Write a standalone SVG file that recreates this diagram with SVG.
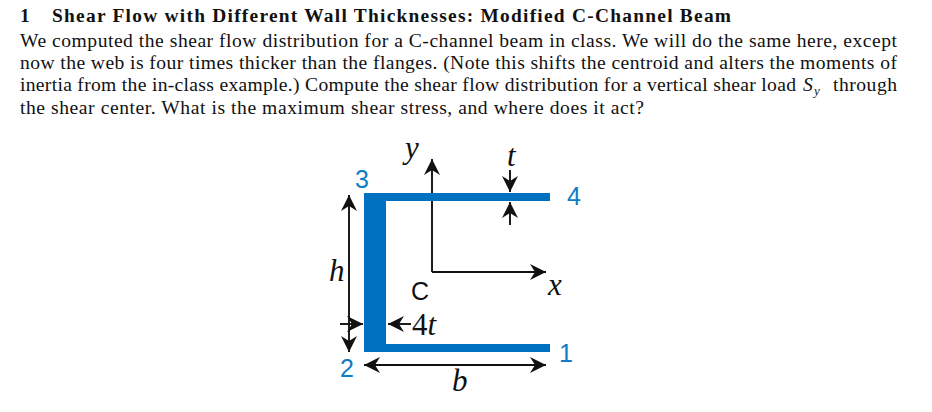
<svg xmlns="http://www.w3.org/2000/svg" width="932" height="412" viewBox="0 0 932 412">
<style>
.t{font-family:"Liberation Serif","Times New Roman",serif;font-size:19.6px;fill:#111}
.b{font-weight:bold;font-size:19.4px}
.i{font-family:"Liberation Serif","Times New Roman",serif;font-style:italic;font-size:31px;fill:#111}
.n{font-family:"Liberation Sans",Arial,sans-serif;font-size:25px;fill:#0f7cc4}
.c{font-family:"Liberation Sans",Arial,sans-serif;font-size:25px;fill:#111}
.a{stroke:#111;stroke-width:1.9;fill:none;marker-end:url(#h)}
.s{fill:#0070c0}
</style>
<defs>
<marker id="h" markerUnits="userSpaceOnUse" markerWidth="18" markerHeight="18" refX="16" refY="8" orient="auto-start-reverse" viewBox="0 0 18 16">
<path d="M0 0L16 8L0 16L5 8Z" fill="#111"/>
</marker>
</defs>
<rect width="932" height="412" fill="#fff"/>
<g id="text">
<text class="t b" x="20" y="22">1</text>
<text class="t b" x="52" y="22" textLength="679">Shear Flow with Different Wall Thicknesses: Modified C-Channel Beam</text>
<text class="t" x="20" y="47" textLength="877">We computed the shear flow distribution for a C-channel beam in class. We will do the same here, except</text>
<text class="t" x="20" y="69" textLength="877">now the web is four times thicker than the flanges. (Note this shifts the centroid and alters the moments of</text>
<text class="t" x="20" y="91" textLength="776">inertia from the in-class example.) Compute the shear flow distribution for a vertical shear load</text>
<text class="t" x="803" y="91" font-style="italic">S</text>
<text class="t" x="814" y="95" font-style="italic" style="font-size:13px">y</text>
<text class="t" x="833" y="91" textLength="64">through</text>
<text class="t" x="20" y="114" textLength="624">the shear center. What is the maximum shear stress, and where does it act?</text>
</g>
<g id="connectors">
<path class="a" d="M432 272V159"/>
<path class="a" d="M432 272H546"/>
<path class="a" d="M510 170V192"/>
<path class="a" d="M510 225V202"/>
<path class="a" d="M349 195V352" style="marker-start:url(#h)"/>
<path class="a" d="M340 324H363"/>
<path class="a" d="M411 324H388"/>
<path class="a" d="M364 365H546" style="marker-start:url(#h)"/>
</g>
<g id="channel">
<rect class="s" x="364" y="193" width="22" height="159"/>
<rect class="s" x="364" y="193" width="186" height="8"/>
<rect class="s" x="364" y="344" width="186" height="8"/>
</g>
<g id="node-3"><text class="n" x="355" y="188">3</text></g>
<g id="node-4"><text class="n" x="567" y="205">4</text></g>
<g id="node-2"><text class="n" x="340" y="377">2</text></g>
<g id="node-1"><text class="n" x="559" y="362">1</text></g>
<g id="label-y"><text class="i" x="405" y="158">y</text></g>
<g id="label-t"><text class="i" x="507" y="166">t</text></g>
<g id="label-h"><text class="i" x="329" y="281">h</text></g>
<g id="label-x"><text class="i" x="548" y="295">x</text></g>
<g id="label-c"><text class="c" x="411" y="300">C</text></g>
<g id="label-4t"><text class="i" x="412" y="335"><tspan font-style="normal">4</tspan>t</text></g>
<g id="label-b"><text class="i" x="452" y="391">b</text></g>
</svg>
